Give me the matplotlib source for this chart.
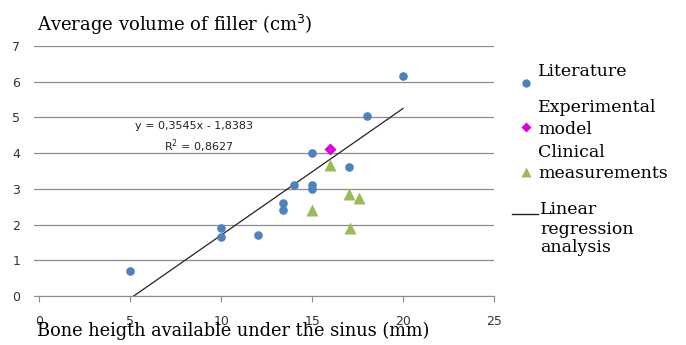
import matplotlib
matplotlib.use("Agg")
import matplotlib.pyplot as plt
from matplotlib.lines import Line2D

# data
lit_x = [5, 10, 10, 12, 13.4, 13.4, 14, 15, 15, 15, 17, 18, 20]
lit_y = [0.7, 1.9, 1.65, 1.7, 2.6, 2.4, 3.12, 3.12, 3.0, 4.0, 3.6, 5.05, 6.17]
exp_x = [16]
exp_y = [4.13]
clin_x = [16, 15, 17, 17.6, 17.1]
clin_y = [3.66, 2.4, 2.85, 2.74, 1.9]
slope, intercept = 0.3545, -1.8383
r2 = 0.8627
fit_end = 20

blue = '#4F81BD'
magenta = '#DD00DD'
green = '#9BBB59'
serif = 'DejaVu Serif'

W, H = 686, 345
fig = plt.figure(figsize=(W / 100, H / 100), dpi=100)
ax = fig.add_axes([34 / W, 1 - 296 / H, 460 / W, 250 / H])

ax.set_xlim(-0.3, 25)
ax.set_ylim(0, 7)
ax.set_xticks(range(0, 26, 5))
ax.set_yticks(range(0, 8))
ax.yaxis.grid(True, color='#8c8c8c', lw=0.9)
ax.set_axisbelow(True)
for s in ['top', 'right', 'left']:
    ax.spines[s].set_visible(False)
ax.spines['bottom'].set_color('#8c8c8c')
ax.tick_params(axis='y', length=0, pad=10, labelsize=9, labelcolor='#333333')
ax.tick_params(axis='x', length=4, color='#8c8c8c', pad=10, labelsize=9,
               labelcolor='#333333')

x0 = -intercept / slope
ax.plot([x0, fit_end], [0, slope * fit_end + intercept], color='#222222', lw=0.9)

ax.plot(lit_x, lit_y, 'o', color=blue, ms=6.2, mec='none', clip_on=False)
ax.plot(exp_x, exp_y, 'D', color=magenta, ms=6, mec='none')
ax.plot(clin_x, clin_y, '^', color=green, ms=8.5, mec='none')

ax.text(8.5, 4.75, f'y = {slope:.4f}x - {-intercept:.4f}'.replace('.', ','),
        ha='center', va='center', fontsize=8, color='#222222')
ax.text(8.75, 4.2, f'R$^2$ = {r2:.4f}'.replace('.', ','),
        ha='center', va='center', fontsize=8, color='#222222')

fig.text(37 / W, 1 - 25 / H, 'Average volume of filler (cm$^3$)',
         fontsize=13, family=serif, va='center', ha='left')
fig.text(37 / W, 1 - 331 / H, 'Bone heigth available under the sinus (mm)',
         fontsize=12.8, family=serif, va='center', ha='left')

# legend drawn by hand to keep its odd layout
leg_fs = 12.5
fig.add_artist(Line2D([526 / W], [1 - 83 / H], marker='o', color=blue, ms=6,
                      mec='none', transform=fig.transFigure))
fig.text(538 / W, 1 - 72 / H, 'Literature', fontsize=leg_fs, family=serif,
         va='center')
fig.add_artist(Line2D([526 / W], [1 - 127 / H], marker='D', color=magenta,
                      ms=5.5, mec='none', transform=fig.transFigure))
fig.text(538 / W, 1 - 107 / H, 'Experimental', fontsize=leg_fs, family=serif,
         va='center')
fig.text(538 / W, 1 - 129 / H, 'model', fontsize=leg_fs, family=serif,
         va='center')
fig.add_artist(Line2D([526 / W], [1 - 172 / H], marker='^', color=green, ms=7,
                      mec='none', transform=fig.transFigure))
fig.text(538 / W, 1 - 152 / H, 'Clinical', fontsize=leg_fs, family=serif,
         va='center')
fig.text(538 / W, 1 - 173 / H, 'measurements', fontsize=leg_fs, family=serif,
         va='center')
fig.add_artist(Line2D([512 / W, 538 / W], [1 - 214 / H, 1 - 214 / H],
                      color='#222222', lw=1, transform=fig.transFigure))
fig.text(540 / W, 1 - 209 / H, 'Linear', fontsize=leg_fs, family=serif,
         va='center')
fig.text(540 / W, 1 - 229 / H, 'regression', fontsize=leg_fs, family=serif,
         va='center')
fig.text(540 / W, 1 - 248 / H, 'analysis', fontsize=leg_fs, family=serif,
         va='center')

fig.savefig('out.png', dpi=100)
